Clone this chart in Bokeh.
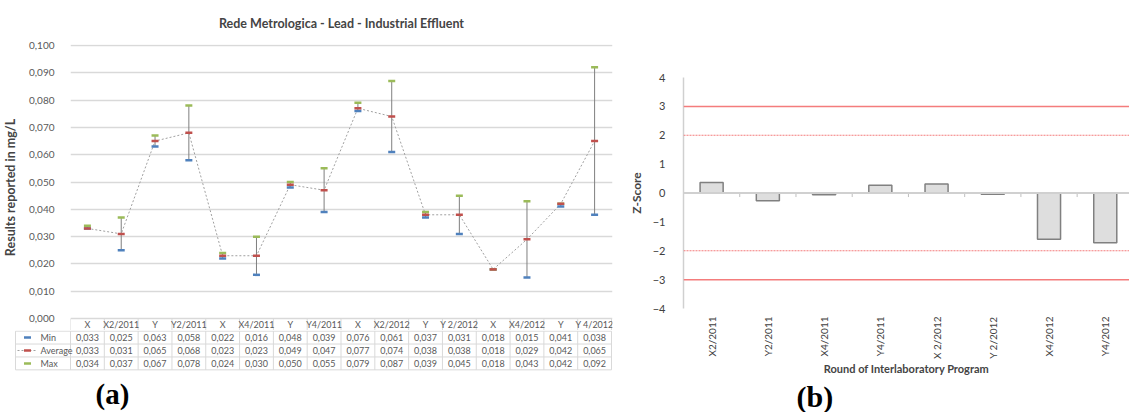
import numpy as np
from bokeh.plotting import figure
from bokeh.layouts import row, column
from bokeh.models import Range1d, FixedTicker, CustomJSTickFormatter, Span
from bokeh.embed import file_html
from bokeh.resources import INLINE
from bokeh.core.properties import value

# ---------------- data ----------------
rounds = ["X", "X2/2011", "Y", "Y2/2011", "X", "X4/2011", "Y", "Y4/2011",
          "X", "X2/2012", "Y", "Y 2/2012", "X", "X4/2012", "Y", "Y 4/2012"]
min_vals = [0.033, 0.025, 0.063, 0.058, 0.022, 0.016, 0.048, 0.039,
            0.076, 0.061, 0.037, 0.031, 0.018, 0.015, 0.041, 0.038]
avg_vals = [0.033, 0.031, 0.065, 0.068, 0.023, 0.023, 0.049, 0.047,
            0.077, 0.074, 0.038, 0.038, 0.018, 0.029, 0.042, 0.065]
max_vals = [0.034, 0.037, 0.067, 0.078, 0.024, 0.030, 0.050, 0.055,
            0.079, 0.087, 0.039, 0.045, 0.018, 0.043, 0.042, 0.092]
series_names = ["Min", "Average", "Max"]
conc_ticks = [0.0, 0.01, 0.02, 0.03, 0.04, 0.05, 0.06, 0.07, 0.08, 0.09, 0.1]

z_rounds = ["X2/2011", "Y2/2011", "X4/2011", "Y4/2011",
            "X 2/2012", "Y 2/2012", "X4/2012", "Y4/2012"]
z_scores = [0.36, -0.27, -0.06, 0.27, 0.31, -0.04, -1.60, -1.72]
z_ticks = [-4, -3, -2, -1, 0, 1, 2, 3, 4]
z_warning = [-2, 2]
z_action = [-3, 3]

panel_labels = ["(a)", "(b)"]

# ---------------- style ----------------
FONT = "Lato"
C_MIN, C_AVG, C_MAX = "#4f81bd", "#c0504d", "#9bbb59"
GRID = "#d9d9d9"
TXT = "#595959"

n = len(rounds)
idx = list(range(n))
PXC = 541.0 / n                 # pixels per category (left chart)
YPP = 0.1 / 274.0               # data units per pixel (left chart)
HEADER_PX = 12
ROW_PX = 12.9


def blank(width, height, x_range, y_range):
    f = figure(width=width, height=height, output_backend="svg", toolbar_location=None,
               x_range=x_range, y_range=y_range, x_axis_location=None, y_axis_location=None,
               min_border_left=0, min_border_right=0, min_border_top=0, min_border_bottom=0)
    f.frame_align = False
    f.outline_line_color = None
    f.grid.visible = False
    return f


# ---------------- chart (a) ----------------
pa = figure(width=625, height=330, output_backend="svg", toolbar_location=None,
            x_range=Range1d(-0.5, n - 0.5 + 1 / PXC),
            y_range=Range1d(-HEADER_PX * YPP, 0.1 + 1 * YPP),
            x_axis_location=None,
            min_border_left=70, min_border_right=13, min_border_top=43, min_border_bottom=0)
pa.frame_align = False
pa.outline_line_color = None
pa.xgrid.visible = False
pa.ygrid.grid_line_color = GRID
pa.ygrid.grid_line_width = 1.5
pa.yaxis.ticker = FixedTicker(ticks=conc_ticks)
pa.yaxis.formatter = CustomJSTickFormatter(code="return tick.toFixed(3).replace('.', ',');")
pa.yaxis.axis_line_color = None
pa.yaxis.major_tick_line_color = None
pa.yaxis.minor_tick_line_color = None
pa.yaxis.major_label_text_font = FONT
pa.yaxis.major_label_text_font_size = "10px"
pa.yaxis.major_label_text_color = TXT
pa.yaxis.major_label_standoff = 10
pa.yaxis.axis_label = "Results reported in mg/L"
pa.yaxis.axis_label_text_font = FONT
pa.yaxis.axis_label_text_font_style = "bold"
pa.yaxis.axis_label_text_font_size = "12.5px"
pa.yaxis.axis_label_standoff = 8
pa.title.text = "Rede Metrologica - Lead - Industrial Effluent"
pa.title.align = "center"
pa.title.text_font = FONT
pa.title.text_font_size = "12.5px"
pa.title.text_font_style = "bold"
pa.title.standoff = 27

pa.segment(x0=idx, y0=min_vals, x1=idx, y1=max_vals, line_color="#7f7f7f", line_width=1)
pa.line(idx, avg_vals, line_color="#a0a0a0", line_dash="2 2", line_width=1)
for vals, col in ((min_vals, C_MIN), (max_vals, C_MAX), (avg_vals, C_AVG)):
    pa.scatter(idx, vals, marker="dash", size=7, line_color=col, line_width=2.5)

# header row of the data table (inside the chart frame, just below 0)
edges = [i - 0.5 for i in range(n + 1)]
hdr_mid = -HEADER_PX / 2 * YPP
pa.segment(x0=edges, y0=[0] * len(edges), x1=edges, y1=[-HEADER_PX * YPP] * len(edges),
           line_color=GRID, line_width=1)
pa.text(x=idx, y=[hdr_mid] * n, text=rounds, text_font=value(FONT), text_font_size="9px",
        text_color=TXT, text_align="center", text_baseline="middle")

# ---------------- table (a) ----------------
LEG_PX = 55
xs_left = -0.5 - LEG_PX / PXC
pt = figure(width=625, height=42, output_backend="svg", toolbar_location=None,
            x_range=Range1d(-0.5 - (LEG_PX + 1) / PXC, n - 0.5 + 1 / PXC),
            y_range=Range1d(-0.05 + 42 / ROW_PX, -0.05),
            x_axis_location=None, y_axis_location=None,
            min_border_left=14, min_border_right=13, min_border_top=0, min_border_bottom=0)
pt.frame_align = False
pt.outline_line_color = None
pt.grid.visible = False
rows_y = [0, 1, 2, 3]
pt.segment(x0=[xs_left] * 4, y0=rows_y, x1=[n - 0.5] * 4, y1=rows_y, line_color=GRID, line_width=1)
vx = [xs_left] + edges
pt.segment(x0=vx, y0=[0] * len(vx), x1=vx, y1=[3] * len(vx), line_color=GRID, line_width=1)
for r, vals in enumerate((min_vals, avg_vals, max_vals)):
    pt.text(x=idx, y=[r + 0.5] * n, text=[f"{v:.3f}".replace(".", ",") for v in vals],
            text_font=value(FONT), text_font_size="9px", text_color=TXT,
            text_align="center", text_baseline="middle")
sym_x = xs_left + 12 / PXC
name_x = xs_left + 25 / PXC
pt.text(x=[name_x] * 3, y=[0.5, 1.5, 2.5], text=series_names, text_font=value(FONT),
        text_font_size="9px", text_color=TXT, text_align="left", text_baseline="middle")
pt.segment(x0=[xs_left + 2 / PXC], y0=[1.5], x1=[xs_left + 22 / PXC], y1=[1.5],
           line_color="#a0a0a0", line_dash="2 2", line_width=1)
pt.scatter([sym_x] * 3, [0.5, 1.5, 2.5], marker="dash", size=7,
           line_color=[C_MIN, C_AVG, C_MAX], line_width=2.5)

# panel caption (a)
la = blank(625, 40, Range1d(0, 625), Range1d(40, 0))
la.text(x=[95], y=[5], text=[panel_labels[0]], text_font=value("Liberation Serif"),
        text_font_size="29px", text_font_style="bold", text_color="black",
        text_align="left", text_baseline="top")

# ---------------- chart (b) ----------------
ZPX = 58.0
pz = figure(width=504, height=378, output_backend="svg", toolbar_location=None,
            x_range=Range1d(-0.5, -0.5 + 460 / ZPX), y_range=Range1d(-4, 4),
            min_border_left=44, min_border_right=0, min_border_top=77, min_border_bottom=70)
pz.frame_align = False
pz.outline_line_color = None
pz.grid.visible = False
zidx = list(range(len(z_rounds)))
for lv in z_action:
    pz.add_layout(Span(location=lv, dimension="width", line_color="#f47c7c", line_width=1.5))
for lv in z_warning:
    pz.add_layout(Span(location=lv, dimension="width", line_color="#f47c7c", line_width=1.2,
                       line_dash="2 1"))
pz.add_layout(Span(location=0, dimension="width", line_color="#d0d0d0", line_width=2))
tick_x = [i + 0.5 for i in zidx[:-1]]
pz.segment(x0=tick_x, y0=[0] * len(tick_x), x1=tick_x, y1=[-0.14] * len(tick_x),
           line_color="#bfbfbf", line_width=1)
pz.vbar(x=zidx, top=z_scores, bottom=0, width=0.41, fill_color="#dedede",
        line_color="#808080", line_width=1.5)

pz.yaxis.ticker = FixedTicker(ticks=z_ticks)
pz.yaxis.axis_line_color = "#d0d0d0"
pz.yaxis.axis_line_width = 1.5
pz.yaxis.major_tick_line_color = None
pz.yaxis.minor_tick_line_color = None
pz.yaxis.major_label_text_font = FONT
pz.yaxis.major_label_text_font_size = "11px"
pz.yaxis.major_label_text_color = "#404040"
pz.yaxis.major_label_standoff = 12
pz.yaxis.axis_label = "Z-Score"
pz.yaxis.axis_label_text_font = FONT
pz.yaxis.axis_label_text_font_style = "bold"
pz.yaxis.axis_label_text_font_size = "12px"
pz.yaxis.axis_label_standoff = 6

pz.xaxis.ticker = FixedTicker(ticks=zidx)
pz.xaxis.major_label_overrides = {i: s for i, s in enumerate(z_rounds)}
pz.xaxis.major_label_orientation = np.pi / 2
pz.xaxis.axis_line_color = None
pz.xaxis.major_tick_line_color = None
pz.xaxis.minor_tick_line_color = None
pz.xaxis.major_label_text_font = FONT
pz.xaxis.major_label_text_font_size = "10px"
pz.xaxis.major_label_text_color = "#404040"
pz.xaxis.major_label_standoff = 2
pz.xaxis.axis_label = "Round of Interlaboratory Program"
pz.xaxis.axis_label_text_font = FONT
pz.xaxis.axis_label_text_font_style = "bold"
pz.xaxis.axis_label_text_font_size = "11px"
pz.xaxis.axis_label_standoff = 0

# panel caption (b)
lb = blank(504, 34, Range1d(0, 504), Range1d(34, 0))
lb.text(x=[171], y=[1], text=[panel_labels[1]], text_font=value("Liberation Serif"),
        text_font_size="30px", text_font_style="bold", text_color="black",
        text_align="left", text_baseline="top")

layout = row(column(pa, pt, la), column(pz, lb))
open("out.html", "w").write(file_html(layout, INLINE))
